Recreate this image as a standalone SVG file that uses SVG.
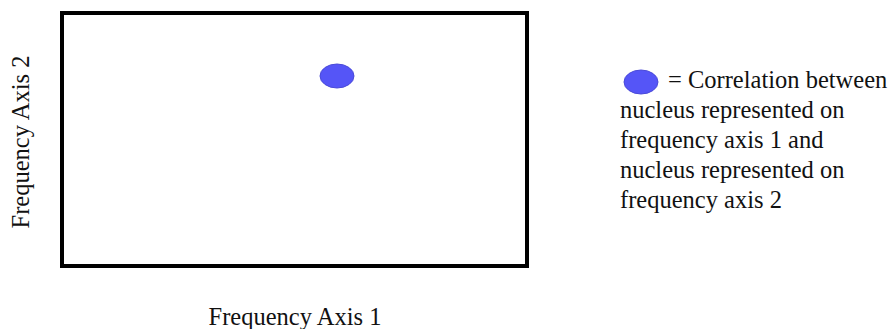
<svg xmlns="http://www.w3.org/2000/svg" width="894" height="329" viewBox="0 0 894 329">
<style>
text{font-family:"Liberation Serif","Times New Roman",serif;font-size:24.5px;fill:#111}
.dot{fill:#5555f7;stroke:#4a4ad8;stroke-width:1}
</style>
<rect width="894" height="329" fill="#fff"/>
<g id="plot">
<rect x="62" y="13" width="465" height="253" fill="#fff" stroke="#000" stroke-width="4"/>
<ellipse class="dot" cx="337" cy="76" rx="17" ry="12"/>
</g>
<g id="axis1"><text x="295" y="325" text-anchor="middle">Frequency Axis 1</text></g>
<g id="axis2"><text transform="translate(29,142) rotate(-90)" text-anchor="middle">Frequency Axis 2</text></g>
<g id="legend">
<ellipse class="dot" cx="641" cy="82" rx="17" ry="12"/>
<text x="668" y="88">= Correlation between</text>
<text x="620" y="118">nucleus represented on</text>
<text x="620" y="148">frequency axis 1 and</text>
<text x="620" y="178">nucleus represented on</text>
<text x="620" y="208">frequency axis 2</text>
</g>
</svg>
